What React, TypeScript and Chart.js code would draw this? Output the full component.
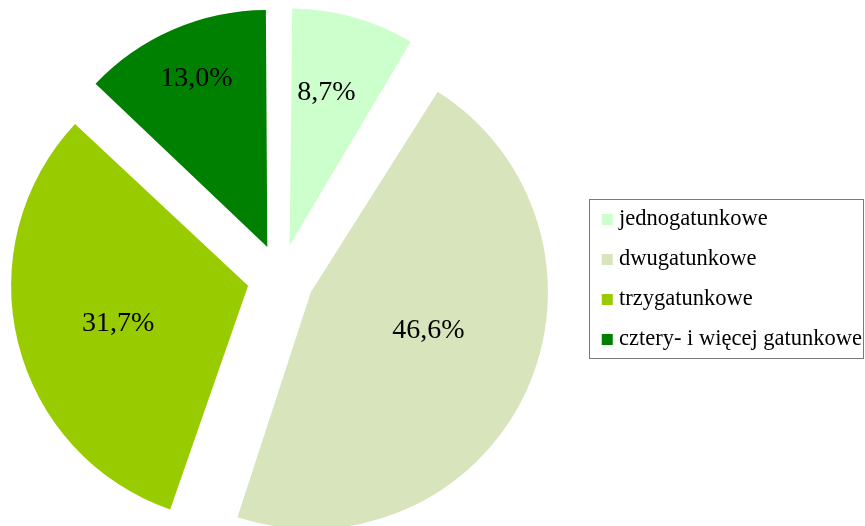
import React, { useEffect, useRef } from 'react';
import { Chart, registerables } from 'chart.js';

Chart.register(...registerables);

const categories = ['jednogatunkowe', 'dwugatunkowe', 'trzygatunkowe', 'cztery- i więcej gatunkowe'];
const shares = [8.7, 46.6, 31.7, 13.0];
const sliceColors = ['#CCFFCC', '#D8E4BC', '#99CC00', '#008000'];
const explodeOffsets = [134, 134, 134, 134];
const labelAngleFrac = [0.43, 0.459, 0.48, 0.513];
const labelRadiusFrac = [0.665, 0.522, 0.571, 0.772];

const FONT = "'Liberation Serif', 'Times New Roman', serif";
const PIE_RADIUS = 237;
const SHIFT = 28; // canvas extends this far past the left page edge

const formatPct = (v: number) => v.toFixed(1).replace('.', ',') + '%';

const arcOffset = (arc: any, i: number) => ((arc.options && arc.options.offset) ?? explodeOffsets[i]) / 4;

const evenRadiusPlugin = {
  id: 'evenRadius',
  beforeDatasetsDraw(chart: any) {
    const meta = chart.getDatasetMeta(0);
    meta.data.forEach((arc: any, i: number) => {
      const fix = 1 - Math.sin(Math.min(Math.PI, arc.circumference || 0));
      arc.outerRadius = PIE_RADIUS - arcOffset(arc, i) * fix;
    });
  },
};

const sliceLabelPlugin = {
  id: 'sliceLabels',
  afterDatasetsDraw(chart: any) {
    const ctx = chart.ctx;
    const meta = chart.getDatasetMeta(0);
    ctx.save();
    ctx.font = `28px ${FONT}`;
    ctx.fillStyle = '#000';
    ctx.textAlign = 'center';
    ctx.textBaseline = 'middle';
    meta.data.forEach((arc: any, i: number) => {
      const { x, y, startAngle, endAngle } = arc;
      const mid = (startAngle + endAngle) / 2;
      const shift = arcOffset(arc, i);
      const a = startAngle + labelAngleFrac[i] * (endAngle - startAngle);
      const r = labelRadiusFrac[i] * PIE_RADIUS;
      const px = x + shift * Math.cos(mid) + r * Math.cos(a);
      const py = y + shift * Math.sin(mid) + r * Math.sin(a);
      ctx.fillText(formatPct(shares[i]), px, py);
    });
    ctx.restore();
  },
};

const legendBorderPlugin = {
  id: 'legendBorder',
  afterDraw(chart: any) {
    const lg = chart.legend;
    const hb = lg && lg.legendHitBoxes;
    if (!hb || !hb.length) return;
    const ctx = chart.ctx;
    const left = Math.min(...hb.map((h: any) => h.left)) - 17.5;
    const right = Math.max(...hb.map((h: any) => h.left + h.width)) + 1.5;
    const top = hb[0].top - 9.5;
    const last = hb[hb.length - 1];
    const bottom = last.top + last.height + 7;
    ctx.save();
    ctx.strokeStyle = '#7a7a7a';
    ctx.lineWidth = 1;
    ctx.strokeRect(Math.round(left) + 0.5, Math.round(top) + 0.5, Math.round(right - left), Math.round(bottom - top));
    ctx.restore();
  },
};

export default function App() {
  const canvasRef = useRef<HTMLCanvasElement | null>(null);

  useEffect(() => {
    document.body.style.margin = '0';
    const canvas = canvasRef.current;
    if (!canvas) return;
    const chart = new Chart(canvas, {
      type: 'pie',
      data: {
        labels: categories,
        datasets: [
          {
            data: shares,
            backgroundColor: sliceColors,
            borderWidth: 0,
            offset: explodeOffsets,
            hoverOffset: 0,
            radius: PIE_RADIUS,
          } as any,
        ],
      },
      options: {
        responsive: false,
        animation: false,
        events: [],
        layout: { padding: { left: 0, right: -7, top: 29.5, bottom: 0 } },
        plugins: {
          legend: {
            position: 'right',
            align: 'center',
            title: {
              display: true,
              text: '',
              font: { size: 10, lineHeight: 1.2 },
              padding: { top: -8.5, bottom: 0 },
            },
            labels: {
              usePointStyle: true,
              pointStyle: 'rect',
              boxWidth: 1,
              boxHeight: 11,
              padding: 17.5,
              color: '#000',
              font: { family: FONT, size: 22.5 },
            },
          },
          tooltip: { enabled: false },
        },
      } as any,
      plugins: [evenRadiusPlugin, sliceLabelPlugin, legendBorderPlugin],
    });
    return () => chart.destroy();
  }, []);

  return (
    <div style={{ width: 865, height: 526, position: 'relative', overflow: 'hidden' }}>
      <canvas
        ref={canvasRef}
        width={865 + SHIFT}
        height={526}
        style={{ position: 'absolute', left: -SHIFT, top: 0 }}
      />
    </div>
  );
}
